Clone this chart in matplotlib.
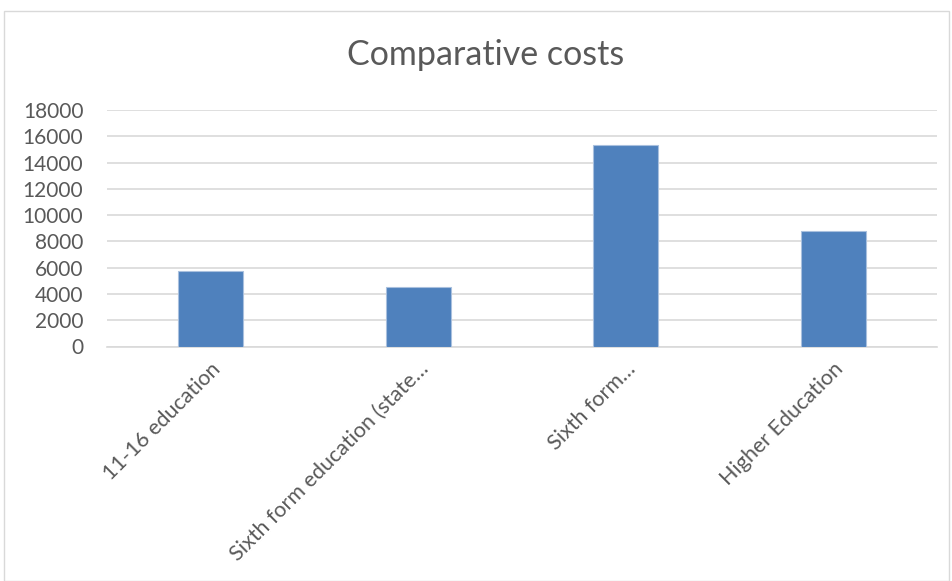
import matplotlib
matplotlib.use("Agg")
import matplotlib.pyplot as plt
from matplotlib.patches import Rectangle

categories = ["11-16 education", "Sixth form education (state\u2026", "Sixth form\u2026", "Higher Education"]
values = [5740, 4520, 15320, 8780]
yticks = [0, 2000, 4000, 6000, 8000, 10000, 12000, 14000, 16000, 18000]

plt.rcParams['font.family'] = ['Lato', 'DejaVu Sans']
txt = '#595959'

fig = plt.figure(figsize=(9.53, 5.81), dpi=100)
fig.patches.append(Rectangle((4/953, 0), 945/953, (581-11)/581, transform=fig.transFigure,
                             fill=False, edgecolor='#D9D9D9', linewidth=1))
ax = fig.add_axes([107/953, 1-346.5/581, 830/953, (346.5-110)/581])

x = list(range(len(categories)))
ax.bar(x, values, width=0.313, color='#4F81BD', edgecolor='#A9C0DE', linewidth=0.8, zorder=3)
ax.set_xlim(-0.5, len(categories)-0.5)
ax.set_ylim(0, 18000)
ax.set_yticks(yticks)
ax.set_yticklabels([str(v) for v in yticks], fontsize=15, color=txt)
ax.yaxis.grid(True, color='#D9D9D9', linewidth=1.2, zorder=0)
ax.set_axisbelow(True)
for s in ['left', 'right', 'top']:
    ax.spines[s].set_visible(False)
ax.spines['bottom'].set_color('#D9D9D9')
ax.spines['bottom'].set_linewidth(1.2)
ax.tick_params(axis='both', length=0)
ax.tick_params(axis='y', pad=17)
ax.set_xticks(x)
ax.set_xticklabels(categories, rotation=45, ha='right', rotation_mode='anchor',
                   fontsize=15.5, color=txt)
ax.tick_params(axis='x', pad=9)

fig.text(486/953, 1-55/581, "Comparative costs", ha='center', va='center', fontsize=24.5, color=txt)

fig.savefig("out.png", dpi=100)
